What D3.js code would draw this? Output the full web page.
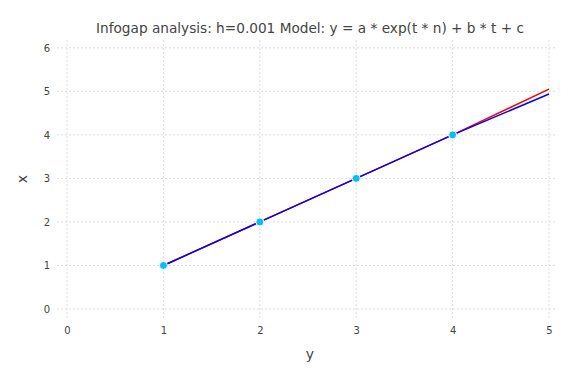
<!DOCTYPE html>
<html>
<head>
<meta charset="utf-8">
<script src="https://cdn.jsdelivr.net/npm/d3@7"></script>
<style>
  body { margin: 0; background: #fff; }
  svg { font-family: Verdana, "DejaVu Sans", sans-serif; }
  .grid line { stroke: #dcdce8; stroke-dasharray: 2,2; }
  .tick text { fill: #444; font-size: 10px; }
</style>
</head>
<body>
<svg id="chart" width="576" height="384"></svg>
<script>
// data
var pointsX = [1, 2, 3, 4];
var pointsY = [1, 2, 3, 4];
var fitX = [1, 2, 3, 4, 5];
var redFit = [1, 2, 3, 4, 5.05];
var blueFit = [1, 2, 3, 4, 4.94];
var xTicks = [0, 1, 2, 3, 4, 5];
var yTicks = [0, 1, 2, 3, 4, 5, 6];

var svg = d3.select('#chart');
var plotLeft = 57, plotRight = 557, plotTop = 40, plotBottom = 318;

var x = d3.scaleLinear().domain([-0.104, 5.083]).range([plotLeft, plotRight]);
var y = d3.scaleLinear().domain([-0.207, 6.18]).range([plotBottom, plotTop]);

// gridlines
var grid = svg.append('g').attr('class', 'grid');
grid.selectAll('.gx').data(xTicks).enter().append('line')
  .attr('x1', function(d){ return x(d); }).attr('x2', function(d){ return x(d); })
  .attr('y1', plotTop).attr('y2', plotBottom);
grid.selectAll('.gy').data(yTicks).enter().append('line')
  .attr('y1', function(d){ return y(d); }).attr('y2', function(d){ return y(d); })
  .attr('x1', plotLeft).attr('x2', plotRight);

// axes (labels only)
var xAxis = svg.append('g').attr('transform', 'translate(0,' + (plotBottom + 4) + ')')
  .call(d3.axisBottom(x).tickValues(xTicks).tickFormat(d3.format('d')).tickSize(0).tickPadding(5));
var yAxis = svg.append('g').attr('transform', 'translate(' + (plotLeft - 4) + ',0)')
  .call(d3.axisLeft(y).tickValues(yTicks).tickFormat(d3.format('d')).tickSize(0).tickPadding(3));
xAxis.select('.domain').remove();
yAxis.select('.domain').remove();
svg.selectAll('.tick text').attr('font-family', 'Verdana, "DejaVu Sans", sans-serif');

// lines
var line = d3.line()
  .x(function(d, i){ return x(fitX[i]); })
  .y(function(d){ return y(d); });
svg.append('path').datum(redFit).attr('d', line)
  .attr('fill', 'none').attr('stroke', '#ff0000').attr('stroke-width', 1.5);
svg.append('path').datum(blueFit).attr('d', line)
  .attr('fill', 'none').attr('stroke', '#0000ff').attr('stroke-width', 1.5);

// points
svg.selectAll('.pt').data(pointsX).enter().append('circle')
  .attr('cx', function(d){ return x(d); })
  .attr('cy', function(d, i){ return y(pointsY[i]); })
  .attr('r', 4)
  .attr('fill', '#00bfff')
  .attr('stroke', '#fff').attr('stroke-width', 1);

// title and axis titles
svg.append('text').attr('x', 310).attr('y', 33).attr('text-anchor', 'middle')
  .attr('font-size', 13.5).attr('fill', '#444')
  .attr('textLength', 428).attr('lengthAdjust', 'spacingAndGlyphs')
  .text('Infogap analysis: h=0.001 Model: y = a * exp(t * n) + b * t + c');
svg.append('text').attr('x', 310).attr('y', 359).attr('text-anchor', 'middle')
  .attr('font-size', 14).attr('fill', '#444').text('y');
svg.append('text').attr('transform', 'translate(27,179) rotate(-90)').attr('text-anchor', 'middle')
  .attr('font-size', 14).attr('fill', '#444').text('x');
</script>
</body>
</html>
